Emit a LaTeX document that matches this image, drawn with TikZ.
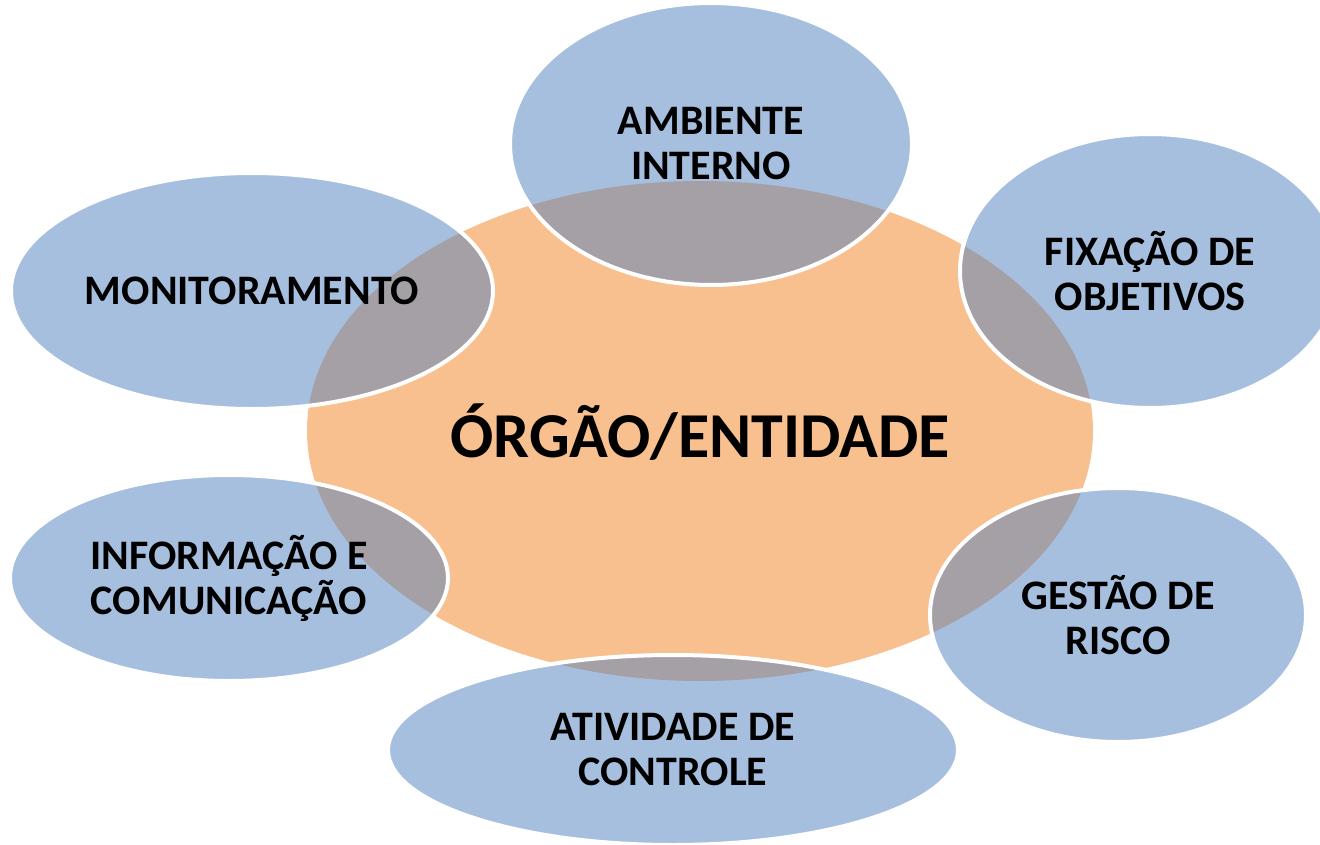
\documentclass[tikz,border=0pt]{standalone}
\usepackage{fontspec}
\setmainfont{Carlito}
\definecolor{azul}{HTML}{A7BFDE}
\definecolor{laranja}{HTML}{F8C08F}
\definecolor{cinza}{HTML}{A5A0A6}
\begin{document}
\begin{tikzpicture}[x=1pt,y=-1pt,
  rotulo/.style={align=center,font=\bfseries\fontsize{42}{45}\selectfont}]
\useasboundingbox (0,0) rectangle (1320,845);
\fill[laranja] (700,431) ellipse [x radius=393,y radius=250];
\foreach \cx/\cy/\rx/\ry/\nome/\txt in {
  711/144/201/141/ambiente/{AMBIENTE\\INTERNO},
  1150/271/190/137/fixacao/{FIXAÇÃO DE\\OBJETIVOS},
  1118/615/188/127/gestao/{GESTÃO DE\\RISCO},
  673/750/285/95/atividade/{ATIVIDADE DE\\CONTROLE},
  229/578/219/103/informacao/{INFORMAÇÃO E\\COMUNICAÇÃO},
  252/291/241/118/monitoramento/{MONITORAMENTO}}{
  \fill[azul] (\cx,\cy) ellipse [x radius=\rx,y radius=\ry];
  \begin{scope}
    \clip (700,431) ellipse [x radius=393,y radius=250];
    \fill[cinza] (\cx,\cy) ellipse [x radius=\rx,y radius=\ry];
  \end{scope}
  \draw[white,line width=4] (\cx,\cy) ellipse [x radius=\rx,y radius=\ry];
  \draw (\cx,\cy) node[rotulo] (\nome) {\txt};
}
\draw (700,432) node[font=\bfseries\fontsize{64}{76}\selectfont] (orgao) {ÓRGÃO/ENTIDADE};
\end{tikzpicture}
\end{document}
